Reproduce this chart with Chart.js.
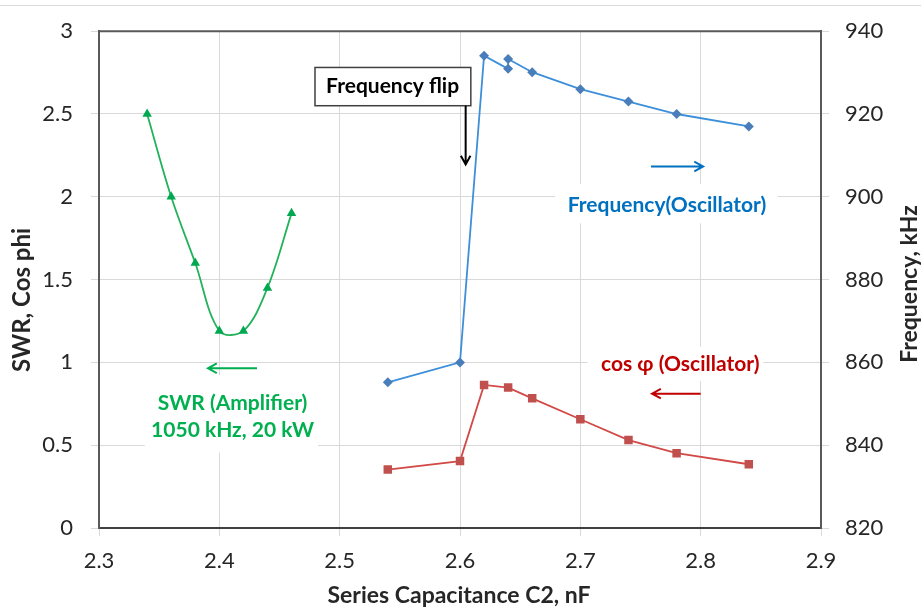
<!DOCTYPE html>
<html>
<head>
<meta charset="utf-8">
<script src="https://cdn.jsdelivr.net/npm/chart.js@4.4.1/dist/chart.umd.min.js"></script>
<style>
  html, body { margin: 0; padding: 0; background: #fff; }
  canvas { display: block; }
</style>
</head>
<body>
<canvas id="mycanvas" width="921" height="609"></canvas>
<script>
// SWR of the amplifier (left axis)
var swrX = [2.34, 2.36, 2.38, 2.40, 2.42, 2.44, 2.46];
var swrY = [2.5, 2.0, 1.6, 1.19, 1.19, 1.45, 1.9];
// oscillator frequency, kHz (right axis)
var freqX = [2.54, 2.60, 2.62, 2.64, 2.64, 2.66, 2.70, 2.74, 2.78, 2.84];
var freqY = [855.2, 860, 934.1, 930.9, 933.3, 930.1, 926, 923, 920, 917];
// cos phi of the oscillator (left axis)
var cosX = [2.54, 2.60, 2.62, 2.64, 2.66, 2.70, 2.74, 2.78, 2.84];
var cosY = [0.353, 0.404, 0.864, 0.848, 0.783, 0.657, 0.531, 0.452, 0.385];

var xTicks = [2.3, 2.4, 2.5, 2.6, 2.7, 2.8, 2.9];
var leftTicks = [0, 0.5, 1, 1.5, 2, 2.5, 3];
var rightTicks = [820, 840, 860, 880, 900, 920, 940];

var FONT = 'Lato, "Open Sans", sans-serif';

function pts(xs, ys) {
  var out = [];
  for (var i = 0; i < xs.length; i++) out.push({x: xs[i], y: ys[i]});
  return out;
}
function setTicks(list) {
  return function(scale) {
    scale.ticks = list.map(function(v){ return {value: v}; });
  };
}

// annotations, placed in data units (x in nF, y on the left axis)
var notes = [
  {box: [2.338, 0.923, 2.482, 0.456], lines: ['SWR (Amplifier)', '1050 kHz, 20 kW'], at: [2.411, 0.751], gap: 27, color: '#00b050', arrow: [2.4313, 0.9645, 2.3906, 0.9645]},
  {box: [2.679, 2.077, 2.864, 1.840], lines: ['Frequency(Oscillator)'], at: [2.772, 1.947], gap: 0, color: '#0070c0', arrow: [2.7587, 2.183, 2.802, 2.183]},
  {box: [2.706, 1.095, 2.852, 0.888], lines: ['cos \u03c6 (Oscillator)'], at: [2.783, 0.988], gap: 0, color: '#c00000', arrow: [2.800, 0.811, 2.7596, 0.811]}
];
var flip = {box: [2.4795, 2.781, 2.609, 2.55], text: 'Frequency flip', at: [2.544, 2.666], arrow: [2.6047, 2.55, 2.6047, 2.195]};

function arrowLine(ctx, x1, y1, x2, y2, color, w) {
  var a = Math.atan2(y2 - y1, x2 - x1), h = 10;
  ctx.save();
  ctx.strokeStyle = color;
  ctx.lineWidth = w;
  ctx.beginPath();
  ctx.moveTo(x1, y1);
  ctx.lineTo(x2, y2);
  ctx.moveTo(x2 - h * Math.cos(a - 0.5), y2 - h * Math.sin(a - 0.5));
  ctx.lineTo(x2, y2);
  ctx.lineTo(x2 - h * Math.cos(a + 0.5), y2 - h * Math.sin(a + 0.5));
  ctx.stroke();
  ctx.restore();
}

var extras = {
  id: 'extras',
  beforeDatasetsDraw: function(chart) {
    var ctx = chart.ctx, sx = chart.scales.x, sy = chart.scales.y;
    ctx.save();
    ctx.fillStyle = '#fff';
    notes.forEach(function(n){
      var x1 = sx.getPixelForValue(n.box[0]), y1 = sy.getPixelForValue(n.box[1]);
      var x2 = sx.getPixelForValue(n.box[2]), y2 = sy.getPixelForValue(n.box[3]);
      ctx.fillRect(x1, y1, x2 - x1, y2 - y1);
    });
    ctx.restore();
  },
  afterDraw: function(chart) {
    var ctx = chart.ctx, sx = chart.scales.x, sy = chart.scales.y, a = chart.chartArea;
    ctx.save();
    // outer frame line
    ctx.strokeStyle = '#d9d9d9';
    ctx.lineWidth = 1;
    ctx.beginPath(); ctx.moveTo(0, 5.5); ctx.lineTo(921, 5.5); ctx.stroke();
    // top border of plot area
    ctx.strokeStyle = '#595959';
    ctx.lineWidth = 2;
    ctx.beginPath(); ctx.moveTo(a.left, a.top); ctx.lineTo(a.right, a.top); ctx.stroke();

    // coloured notes
    notes.forEach(function(n){
      ctx.fillStyle = n.color;
      ctx.font = 'bold 21px ' + FONT;
      ctx.textAlign = 'center';
      ctx.textBaseline = 'middle';
      var tx = sx.getPixelForValue(n.at[0]), ty = sy.getPixelForValue(n.at[1]);
      n.lines.forEach(function(t, i){ ctx.fillText(t, tx, ty + i * n.gap); });
      arrowLine(ctx, sx.getPixelForValue(n.arrow[0]), sy.getPixelForValue(n.arrow[1]),
        sx.getPixelForValue(n.arrow[2]), sy.getPixelForValue(n.arrow[3]), n.color, 2);
    });

    // frequency flip box
    var bx1 = sx.getPixelForValue(flip.box[0]), by1 = sy.getPixelForValue(flip.box[1]);
    var bx2 = sx.getPixelForValue(flip.box[2]), by2 = sy.getPixelForValue(flip.box[3]);
    ctx.fillStyle = '#fff';
    ctx.fillRect(bx1, by1, bx2 - bx1, by2 - by1);
    ctx.strokeStyle = '#404040';
    ctx.lineWidth = 1.5;
    ctx.strokeRect(bx1, by1, bx2 - bx1, by2 - by1);
    ctx.fillStyle = '#000';
    ctx.font = 'bold 21px ' + FONT;
    ctx.textAlign = 'center';
    ctx.textBaseline = 'middle';
    ctx.fillText(flip.text, sx.getPixelForValue(flip.at[0]), sy.getPixelForValue(flip.at[1]));
    arrowLine(ctx, sx.getPixelForValue(flip.arrow[0]), sy.getPixelForValue(flip.arrow[1]),
      sx.getPixelForValue(flip.arrow[2]), sy.getPixelForValue(flip.arrow[3]), '#000', 2);

    // axis titles
    ctx.fillStyle = '#262626';
    ctx.font = 'bold 23px ' + FONT;
    ctx.fillText('Series Capacitance C2, nF', 459, 596);
    ctx.save();
    ctx.translate(22, 300);
    ctx.rotate(-Math.PI / 2);
    ctx.font = 'bold 24px ' + FONT;
    ctx.fillText('SWR, Cos phi', 0, 0);
    ctx.restore();
    ctx.save();
    ctx.translate(910, 284);
    ctx.rotate(-Math.PI / 2);
    ctx.fillText('Frequency, kHz', 0, 0);
    ctx.restore();
    ctx.restore();
  }
};

var chartdata = {
  datasets: [
    {
      label: 'SWR (Amplifier)',
      data: pts(swrX, swrY),
      yAxisID: 'y',
      showLine: true,
      tension: 0.35,
      borderColor: '#22b35a',
      backgroundColor: '#00a84f',
      borderWidth: 1.8,
      pointStyle: 'triangle',
      pointRadius: 5.5,
      pointBorderWidth: 0
    },
    {
      label: 'Frequency (Oscillator)',
      data: pts(freqX, freqY),
      yAxisID: 'y1',
      showLine: true,
      tension: 0,
      borderColor: '#3d8fda',
      backgroundColor: '#4a7ebb',
      borderWidth: 1.8,
      pointStyle: 'rectRot',
      pointRadius: 5,
      pointBorderWidth: 0
    },
    {
      label: 'cos phi (Oscillator)',
      data: pts(cosX, cosY),
      yAxisID: 'y',
      showLine: true,
      tension: 0,
      borderColor: '#d24a47',
      backgroundColor: '#c0504d',
      borderWidth: 1.8,
      pointStyle: 'rect',
      pointRadius: 6,
      pointBorderWidth: 0
    }
  ]
};

var tickFont = {family: FONT, size: 22};
var ctx = document.getElementById('mycanvas');
var chart = new Chart(ctx, {
  type: 'scatter',
  data: chartdata,
  plugins: [extras],
  options: {
    responsive: false,
    animation: false,
    devicePixelRatio: 1,
    layout: {padding: {top: 21, left: 0, right: 0, bottom: 0}},
    plugins: {legend: {display: false}, tooltip: {enabled: false}},
    scales: {
      x: {
        type: 'linear', position: 'bottom', min: 2.3, max: 2.9,
        afterBuildTicks: setTicks(xTicks),
        afterFit: function(s){ s.height = 81; },
        grid: {color: '#d9d9d9', lineWidth: 1, tickLength: 8},
        border: {color: '#404040', width: 2},
        ticks: {font: tickFont, color: '#262626', padding: 12, maxRotation: 0,
          callback: function(v){ return v.toFixed(1); }}
      },
      y: {
        type: 'linear', position: 'left', min: 0, max: 3,
        afterBuildTicks: setTicks(leftTicks),
        afterFit: function(s){ s.width = 99; },
        grid: {color: '#d9d9d9', lineWidth: 1, tickLength: 8},
        border: {color: '#595959', width: 2},
        ticks: {font: tickFont, color: '#262626', padding: 18,
          callback: function(v){ return String(v); }}
      },
      y1: {
        type: 'linear', position: 'right', min: 820, max: 940,
        afterBuildTicks: setTicks(rightTicks),
        afterFit: function(s){ s.width = 100; },
        grid: {drawOnChartArea: false, color: '#d9d9d9', tickLength: 8},
        border: {color: '#595959', width: 2},
        ticks: {font: tickFont, color: '#262626', padding: 16,
          callback: function(v){ return String(v); }}
      }
    }
  }
});
</script>
</body>
</html>
